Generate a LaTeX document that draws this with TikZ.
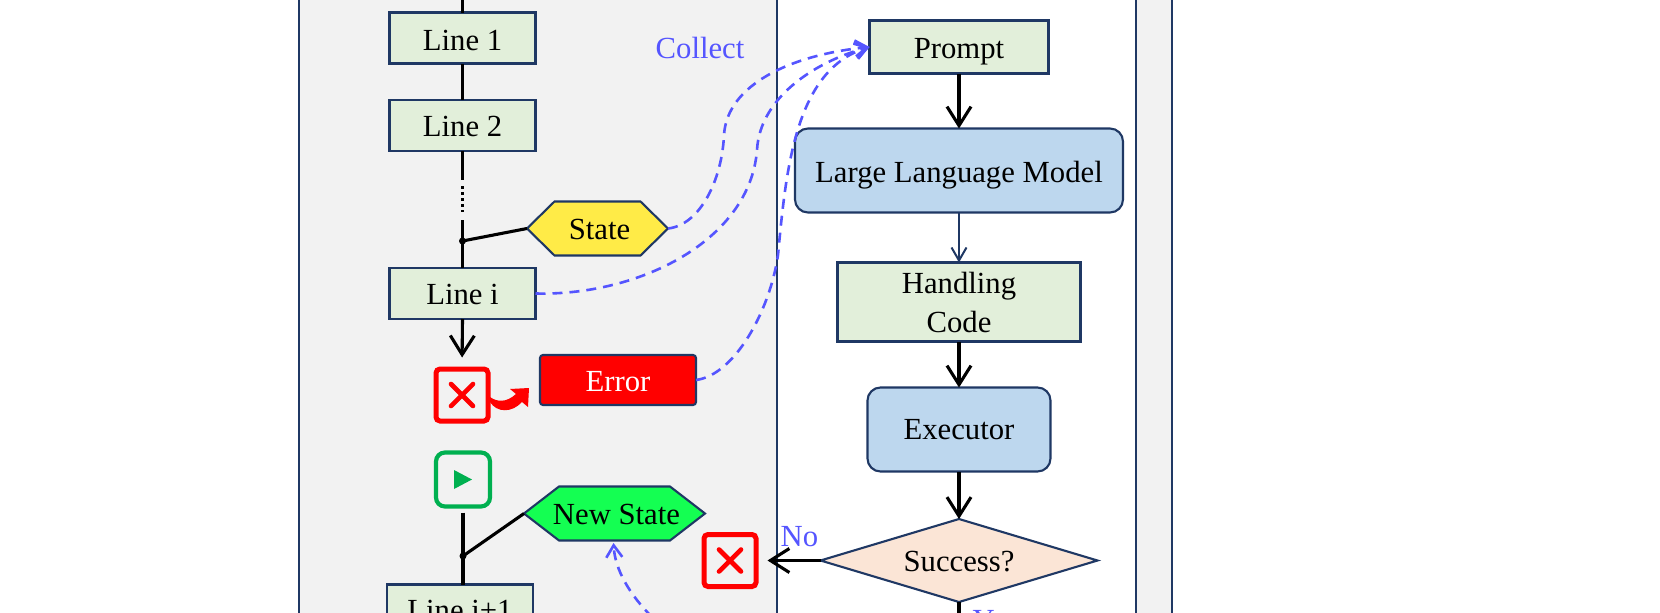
\documentclass[tikz,border=0pt]{standalone}
\usepackage{fontspec}
\setmainfont{Liberation Serif}
\usetikzlibrary{arrows.meta,shapes.geometric}
\definecolor{navy}{HTML}{1F3864}
\definecolor{boxgreen}{HTML}{E2EFDA}
\definecolor{boxblue}{HTML}{BDD7EE}
\definecolor{boxorange}{HTML}{FBE5D6}
\definecolor{hexyellow}{HTML}{FFEB47}
\definecolor{hexgreen}{HTML}{14FF52}
\definecolor{panelgray}{HTML}{F2F2F2}
\definecolor{linkblue}{HTML}{5555FF}
\definecolor{playgreen}{HTML}{00B050}
\tikzset{
  base/.style={inner sep=0pt,outer sep=0pt,font=\fontsize{30.7}{39}\selectfont,text height=20pt,text depth=0pt},
  codebox/.style={base,rectangle,draw=navy,line width=2.1pt,fill=boxgreen},
  procbox/.style={base,rectangle,rounded corners=13pt,draw=navy,line width=2.1pt,fill=boxblue},
  hexbody/.style={draw=navy,line width=2.1pt,line join=miter},
  hexlabel/.style={base,rectangle},
  errbox/.style={base,rectangle,rounded corners=3pt,draw=navy,line width=2.1pt,fill=red,text=white},
  crossbox/.style={rectangle,rounded corners=4pt,draw=red,line width=5pt,minimum width=52pt,minimum height=52pt,inner sep=0pt,outer sep=2.5pt},
  playbox/.style={rectangle,rounded corners=9pt,draw=playgreen,line width=4.2pt,minimum width=54pt,minimum height=54pt,inner sep=0pt,outer sep=2pt},
  bluelabel/.style={base,text=linkblue},
  solidlink/.style={line width=3.1pt,black},
  flow/.style={line width=3.1pt,black,-{Straight Barb[length=19pt,width=24pt]}},
  thinflow/.style={line width=2pt,navy,-{Straight Barb[length=13pt,width=15pt]}},
  collect/.style={line width=2.6pt,linkblue,dash pattern=on 10pt off 7pt,-{Straight Barb[length=12pt,width=16pt]}},
  crossmark/.style={red,line width=4.6pt,line cap=round},
  jdot/.style={circle,fill=black,inner sep=0pt,minimum size=7pt},
}
\newcommand{\hexat}[5]{% cx, cy, half width, half inner width, fill
  \path[hexbody,fill=#5,shift={(#1,#2)}] (-#3,0) -- (-#4,-27) -- (#4,-27) -- (#3,0) -- (#4,27) -- (-#4,27) -- cycle;}
\begin{document}
\begin{tikzpicture}[x=1pt,y=-1pt]
\useasboundingbox (0,0) rectangle (1660,613);
\fill[white] (0,0) rectangle (1660,613);
% panels
\fill[panelgray] (299,-5) rectangle (777,620);
\fill[panelgray] (1136,-5) rectangle (1172,620);
\draw[navy,line width=2.1pt] (299,-5) -- (299,620);
\draw[navy,line width=2.1pt] (777,-5) -- (777,620);
\draw[navy,line width=2.1pt] (1136,-5) -- (1136,620);
\draw[navy,line width=2.1pt] (1172,-5) -- (1172,620);

% left column
\node[codebox,minimum width=146pt,minimum height=51pt,text height=24pt] (l1) at (462.5,38) {Line 1};
\node[codebox,minimum width=146pt,minimum height=51pt,text height=22pt] (l2) at (462.5,125.5) {Line 2};
\node[codebox,minimum width=146pt,minimum height=51pt,text height=21pt] (li) at (462.5,293.5) {Line i};
\node[codebox,minimum width=146pt,minimum height=51pt] (lj) at (460,610) {Line i+1};
\hexat{597.5}{228.5}{70.5}{43}{hexyellow}
\node[hexlabel,minimum width=141pt,minimum height=53pt,text height=21pt] (state) at (597.5,228.5) {\hspace*{4pt}State};
\hexat{614.5}{513.5}{90.5}{55.5}{hexgreen}
\node[hexlabel,minimum width=181pt,minimum height=53pt,text height=22pt] (newstate) at (614.5,513.5) {\hspace*{4pt}New State};
\node[errbox,minimum width=156pt,minimum height=50pt,text height=22pt] (err) at (618,380) {Error};
\node[crossbox] (x1) at (462,395) {};
\node[crossbox] (x2) at (730,560.5) {};
\node[playbox] (play) at (463,479.5) {};
\node[bluelabel] (collect) at (700,48) {Collect};
\node[bluelabel] (no) at (799.5,536.5) {No};
\node[bluelabel] (yes) at (995,620) {Yes};

% right column
\node[codebox,minimum width=179pt,minimum height=53pt,text height=22pt] (prompt) at (959,47) {Prompt};
\node[procbox,minimum width=328pt,minimum height=84pt,text height=23pt] (llm) at (959,170.5) {Large Language Model};
\node[codebox,minimum width=243pt,minimum height=79pt,align=center,text height={},text depth={}] (code) at (959,302) {\raisebox{-2pt}{Handling}\\\raisebox{-2pt}{Code}};
\node[procbox,minimum width=183pt,minimum height=84pt] (exec) at (959,429.5) {Executor};
\node[base,diamond,aspect=3.3,draw=navy,line width=2.1pt,fill=boxorange,minimum width=277pt,minimum height=83pt,text height=22pt] (succ) at (959,560.5) {Success?};

% free ends
\coordinate (top) at (462.5,-5);
\coordinate (d1) at (462.5,180);
\coordinate (d2) at (462.5,186);
\coordinate (d3) at (462.5,212);
\coordinate (d4) at (462.5,220);
\node[jdot] (j1) at (462.5,241) {};
\node[jdot] (j2) at (463,556) {};
\coordinate (yesend) at (959,620);
\coordinate (nsin) at (613.5,543);
\coordinate (nsfrom) at (652,617);

% left links
\draw[solidlink] (top) -- (l1.north);
\draw[solidlink] (l1.south) -- (l2.north);
\draw[solidlink] (l2.south) -- (d1);
\draw[line width=3.1pt,black,dash pattern=on 3pt off 3pt] (d2) -- (d3);
\draw[solidlink] (d4) -- (j1.center);
\draw[solidlink] (j1.center) -- (li.north);
\draw[solidlink] (j1.center) -- (state.west);
\draw[flow,shorten >=9pt] (li.south) -- (x1.north);
\draw[solidlink,shorten <=4pt] (play.south) -- (j2.center);
\draw[solidlink] (j2.center) -- (lj.north -| j2);
\draw[solidlink] (j2.center) -- (newstate.west);
\fill[red] (490,397) .. controls (497,402) and (506,403) .. (516,394)
  -- (510,389) -- (529,388) -- (528,407) -- (522,402)
  .. controls (512,413) and (497,413) .. (490,402) -- cycle;

% right links
\draw[flow] (prompt.south) -- (llm.north);
\draw[thinflow] (llm.south) -- (code.north);
\draw[flow] (code.south) -- (exec.north);
\draw[flow] (exec.south) -- (succ.north);
\draw[flow,shorten >=9pt] (succ.west) -- (x2.east);
\draw[solidlink] (succ.south) -- (yesend);

% crosses and play
\foreach \c in {x1,x2}{
  \draw[crossmark,shift={(\c.center)}] (-11,-11) -- (11,11);
  \draw[crossmark,shift={(\c.center)}] (-11,11) -- (11,-11);
}
\fill[playgreen,shift={(play.center)}] (-9,-9.5) -- (9,0) -- (-9,9.5) -- cycle;

% dashed collect links
\draw[collect] (state.east) .. controls (700,225) and (722,180) .. (724,135) .. controls (727,85) and (790,55) .. (prompt.west);
\draw[collect] (li.east) .. controls (640,296) and (750,240) .. (757,150) .. controls (760,95) and (820,60) .. (prompt.west);
\draw[collect] (err.east) .. controls (735,375) and (770,310) .. (778,255) .. controls (786,170) and (795,70) .. (prompt.west);
\draw[collect] (nsfrom) .. controls (630,595) and (615,570) .. (nsin);
\end{tikzpicture}
\end{document}
